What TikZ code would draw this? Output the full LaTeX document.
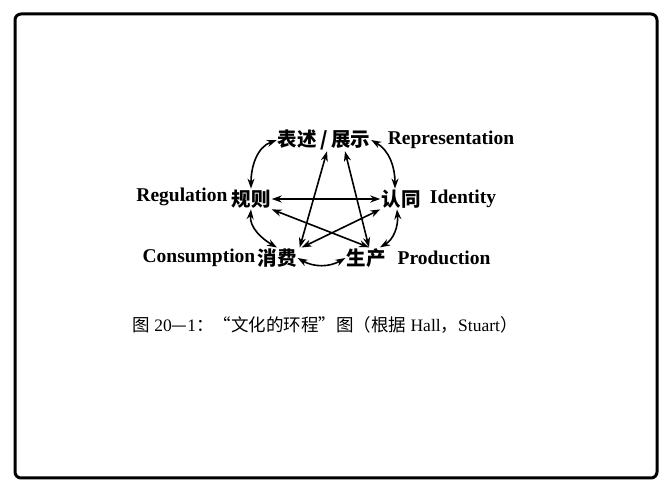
\documentclass[tikz,border=0pt]{standalone}
\usepackage{fontspec}
\setmainfont{Liberation Serif}
\newfontfamily\cjk{Noto Sans CJK SC}
\usetikzlibrary{arrows.meta}

\begin{document}
\begin{tikzpicture}[x=1pt, y=1pt,
        term/.style={inner sep=1pt, font=\bfseries\fontsize{19.5}{19.5}\selectfont},
        hanzi/.style={inner sep=1pt, font=\cjk\bfseries\fontsize{19.5}{19.5}\selectfont},
        link/.style={{Stealth[length=10pt,width=7pt]}-{Stealth[length=10pt,width=7pt]}, line width=1.6pt}
    ]
        \useasboundingbox (0,0) rectangle (672,487);
        \draw[line width=3pt, rounded corners=6pt] (15,9) rectangle (657,473);

        \node[hanzi] (biaoshu) at (324,347) {表述\,/\,展示};
        \node[term] (repEn) at (451,347) {Representation};
        \node[hanzi] (guize) at (251,288) {规则};
        \node[term] (regEn) at (182,290) {Regulation};
        \node[hanzi] (rentong) at (401,288) {认同};
        \node[term] (idEn) at (463,288) {Identity};
        \node[hanzi] (xiaofei) at (277,229) {消费};
        \node[term] (conEn) at (199,229) {Consumption};
        \node[hanzi] (shengchan) at (366,229) {生产};
        \node[term] (proEn) at (444,229) {Production};

        \node[font=\fontsize{17.5}{17.5}\selectfont] (caption) at (325,162)
            {{\cjk 图} 20{\cjk —}1{\cjk ：“文化的环程”图（根据} Hall{\cjk ，}Stuart{\cjk ）}};

        \draw[link] (biaoshu.west) to[out=200,in=90] (guize.north);
        \draw[link] (biaoshu.east) to[out=-30,in=90] ([xshift=-6pt]rentong.north);
        \draw[link] (guize.east) -- (rentong.west);
        \draw[link] (guize.south) to[out=-95,in=150] (xiaofei.north);
        \draw[link] ([xshift=-4pt]rentong.south) to[out=-85,in=30] ([xshift=14pt]shengchan.north);
        \draw[link] (xiaofei.east) to[out=-30,in=-150] (shengchan.west);
        \draw[link] ([xshift=3pt]biaoshu.south) -- ([xshift=2pt]xiaofei.north east);
        \draw[link] ([xshift=21pt]biaoshu.south) -- ([xshift=3pt]shengchan.north);
        \draw[link] (guize.south east) -- ([xshift=3pt]shengchan.north);
        \draw[link] (rentong.south west) -- ([xshift=4pt]xiaofei.north east);
    \end{tikzpicture}
\end{document}
